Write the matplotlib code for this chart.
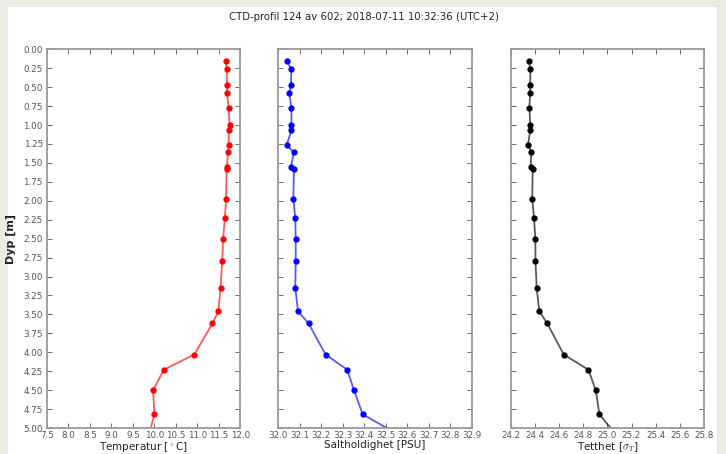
import matplotlib

matplotlib.use("Agg")

import numpy as np
import matplotlib.pyplot as plt
from matplotlib.patches import Rectangle

plt.rcParams['mathtext.fontset'] = 'cm'

# depth of each sample [m]
dyp = [0.16, 0.26, 0.475, 0.577, 0.776, 0.998, 1.07, 1.264, 1.36, 1.55, 1.58,
       1.97, 2.23, 2.50, 2.79, 3.15, 3.46, 3.62, 4.03, 4.23, 4.50, 4.82, 5.12]
temperatur = [11.67, 11.68, 11.69, 11.69, 11.73, 11.75, 11.73, 11.73, 11.71, 11.69, 11.68,
              11.67, 11.64, 11.60, 11.58, 11.54, 11.49, 11.35, 10.93, 10.22, 9.97, 10.00, 9.86]
salt = [32.039, 32.061, 32.059, 32.051, 32.061, 32.061, 32.061, 32.039, 32.072, 32.059, 32.073,
        32.070, 32.079, 32.081, 32.081, 32.079, 32.092, 32.141, 32.220, 32.321, 32.352, 32.393, 32.58]
tetthet = [24.351, 24.363, 24.362, 24.360, 24.355, 24.362, 24.362, 24.343, 24.371, 24.365, 24.382,
           24.378, 24.393, 24.404, 24.405, 24.415, 24.437, 24.503, 24.639, 24.843, 24.904, 24.934, 25.09]

tittel = "CTD-profil 124 av 602; 2018-07-11 10:32:36 (UTC+2)"

fig = plt.figure(figsize=(7.26, 4.54), dpi=100, facecolor="#ecebe1")
fig.patches.append(Rectangle((8 / 726, 0), (717 - 8) / 726, (454 - 7) / 454,
                             transform=fig.transFigure, facecolor="white",
                             edgecolor="none", zorder=-1))

bottom = 26 / 454
height = (428 - 49.3) / 454
lefts = [47 / 726, 278.3 / 726, 510.7 / 726]
width = 193.3 / 726

panels = [
    (temperatur, "red", (7.5, 12.0), np.arange(7.5, 12.01, 0.5), "%.1f", r"Temperatur [$^\circ$C]"),
    (salt, "blue", (32.0, 32.9), np.arange(32.0, 32.91, 0.1), "%.1f", "Saltholdighet [PSU]"),
    (tetthet, "black", (24.2, 25.8), np.arange(24.2, 25.81, 0.2), "%.1f", r"Tetthet [$\sigma_T$]"),
]

for i, (verdi, farge, xlim, xt, fmt, navn) in enumerate(panels):
    ax = fig.add_axes([lefts[i], bottom, width, height])
    ax.plot(verdi, dyp, "-", color=farge, alpha=0.65, lw=1.3)
    ax.plot(verdi, dyp, "o", color=farge, ms=3.5, mec=farge)
    ax.set_xlim(*xlim)
    ax.set_ylim(5.0, 0.0)
    ax.set_xticks(xt)
    ax.set_xticklabels([fmt % v for v in xt])
    ax.set_yticks(np.arange(0, 5.01, 0.25))
    ax.tick_params(direction="in", top=True, right=True, length=3.5, width=0.6,
                   colors="#555555", labelsize=6.3, pad=3)
    ax.tick_params(axis="x", pad=2)
    for s in ax.spines.values():
        s.set_color("#999999")
        s.set_linewidth(1.3)
    ax.set_xlabel(navn, fontsize=7.5, color="#222222", labelpad=0)
    if i == 0:
        ax.set_yticklabels(["%.2f" % v for v in np.arange(0, 5.01, 0.25)])
        ax.set_ylabel("Dyp [m]", fontsize=8, fontweight="semibold", color="#222222", labelpad=5)
    else:
        ax.set_yticklabels([])

fig.text(364 / 726, 1 - 17 / 454, tittel, ha="center", va="center", fontsize=7.3, color="#222222")

plt.savefig("out.png", dpi=100, facecolor=fig.get_facecolor())
plt.close()
